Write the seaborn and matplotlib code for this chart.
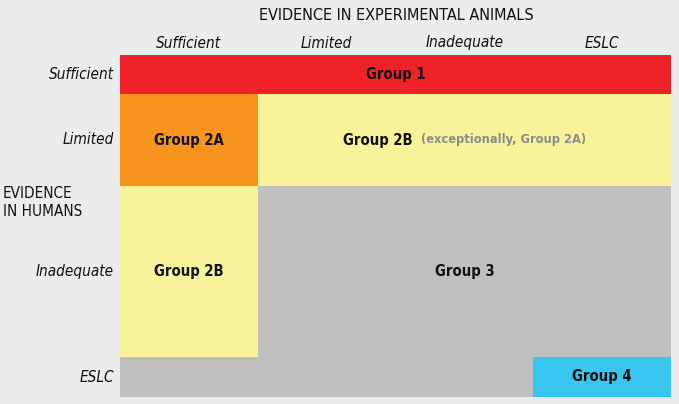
import numpy as np
import matplotlib
matplotlib.use("Agg")
import matplotlib.pyplot as plt
from matplotlib.colors import ListedColormap
import seaborn as sns

# ---- data ----
animal_levels = ["Sufficient", "Limited", "Inadequate", "ESLC"]
human_levels = ["Sufficient", "Limited", "Inadequate", "ESLC"]
group_names = ["Group 1", "Group 2A", "Group 2B", "Group 3", "Group 4"]
group_colors = ["#ee2228", "#f7941e", "#f8f29a", "#c0c0c0", "#38c6ef"]
# classification matrix: rows = evidence in humans, cols = evidence in animals
grid = [
    [0, 0, 0, 0],
    [1, 2, 2, 2],
    [2, 3, 3, 3],
    [3, 3, 3, 4],
]
# merged regions to label: (group index, first row, last row, first col, last col)
regions = [
    (0, 0, 0, 0, 3),
    (1, 1, 1, 0, 0),
    (2, 1, 1, 1, 3),
    (2, 2, 2, 0, 0),
    (3, 2, 2, 1, 3),
    (4, 3, 3, 3, 3),
]
note_2b = "(exceptionally, Group 2A)"
title_top = "EVIDENCE IN EXPERIMENTAL ANIMALS"
title_left = "EVIDENCE\nIN HUMANS"

# ---- layout ----
row_heights = [39, 92, 171, 40]
W, H = 679, 404
BG = "#ebecee"

sns.set_theme(style="white")
plt.rcParams["font.family"] = ["DejaVu Sans"]
plt.rcParams["font.stretch"] = "condensed"

fig = plt.figure(figsize=(W / 100, H / 100), dpi=100, facecolor=BG)
left, right, top, bottom = 120, 671, 55, 397
ax = fig.add_axes([left / W, 1 - bottom / H, (right - left) / W, (bottom - top) / H])

x_edges = np.arange(len(animal_levels) + 1)
y_edges = np.concatenate([[0], np.cumsum(row_heights)])
cmap = ListedColormap(group_colors)
ax.pcolormesh(x_edges, y_edges, np.array(grid), cmap=cmap, vmin=-0.5,
              vmax=len(group_colors) - 0.5, shading="flat")
ax.set_xlim(0, len(animal_levels))
ax.set_ylim(y_edges[-1], 0)
ax.set_axis_off()

y_centers = (y_edges[:-1] + y_edges[1:]) / 2
fs = 11
gfs = 10.6
TXT = dict(fontstretch="condensed")
for g, r0, r1, c0, c1 in regions:
    xc = (c0 + c1 + 1) / 2
    yc = (y_edges[r0] + y_edges[r1 + 1]) / 2
    if g == 2 and r0 == 1:
        t1 = ax.text(xc, yc, group_names[g], ha="right", va="center",
                     fontsize=gfs, fontweight="bold", color="#111111", **TXT)
        t2 = ax.text(xc, yc, "  " + note_2b, ha="left", va="center",
                     fontsize=9.2, fontweight="bold", color="#8c8c8c", **TXT)
        fig.canvas.draw()
        r = fig.canvas.get_renderer()
        w1 = t1.get_window_extent(r).width
        w2 = t2.get_window_extent(r).width
        px = ax.transData.transform((xc, yc))
        shift = (w1 - w2) / 2
        newx = ax.transData.inverted().transform((px[0] + shift, px[1]))[0]
        t1.set_x(newx)
        t2.set_x(newx)
    else:
        ax.text(xc, yc, group_names[g], ha="center", va="center",
                fontsize=gfs, fontweight="bold", color="#111111", **TXT)

# column labels
for i, lab in enumerate(animal_levels):
    fig.text((left + (i + 0.5) * (right - left) / 4) / W, 1 - 43 / H, lab,
             ha="center", va="center", fontsize=fs, style="italic",
             color="#111111", **TXT)
# row labels
for j, lab in enumerate(human_levels):
    fig.text(114 / W, 1 - (top + y_centers[j]) / H, lab,
             ha="right", va="center", fontsize=fs, style="italic",
             color="#111111", **TXT)

fig.text(396 / W, 1 - 16 / H, title_top, ha="center", va="center",
         fontsize=11.6, color="#111111", **TXT)
fig.text(3 / W, 1 - 203 / H, title_left, ha="left", va="center",
         fontsize=11, color="#111111", linespacing=1.25, **TXT)

fig.savefig("out.png", dpi=100, facecolor=BG)
